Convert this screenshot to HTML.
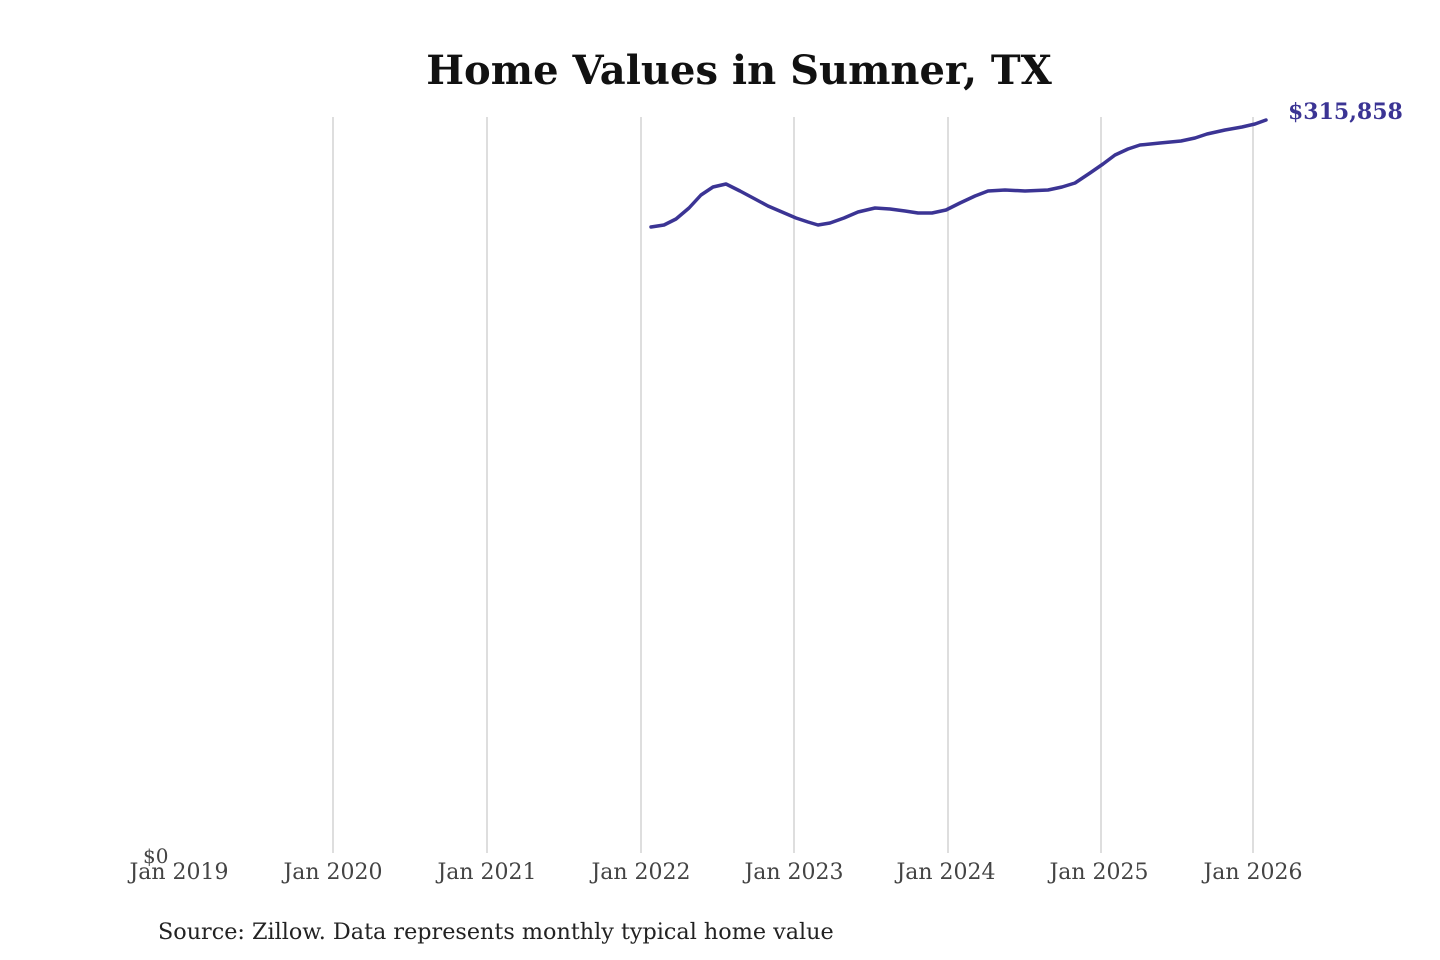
<!DOCTYPE html>
<html><head><style>
body{margin:0;background:#fff;}
svg{display:block;font-family:"DejaVu Serif","Liberation Serif",serif;}
</style></head><body>
<svg width="1440" height="960" viewBox="0 0 1440 960">
<rect width="1440" height="960" fill="#fff"/>
<text x="739" y="84" text-anchor="middle" font-size="40" font-weight="bold" fill="#111">Home Values in Sumner, TX</text>
<g stroke="#c8c8c8" stroke-width="1.2">
<line x1="333" y1="117" x2="333" y2="853"/>
<line x1="487" y1="117" x2="487" y2="853"/>
<line x1="641" y1="117" x2="641" y2="853"/>
<line x1="794" y1="117" x2="794" y2="853"/>
<line x1="948" y1="117" x2="948" y2="853"/>
<line x1="1101" y1="117" x2="1101" y2="853"/>
<line x1="1253" y1="117" x2="1253" y2="853"/>
</g>
<polyline fill="none" stroke="#3b3494" stroke-width="3.5" stroke-linejoin="round" stroke-linecap="round"
points="651,227 664,225 676,219 689,208 701,195 713,187 726,184 740,191 755,199 768,206 782,212 796,218 808,222 818,225 830,223 844,218 858,212 875,208 890,209 905,211 918,213 932,213 946,210 960,203 975,196 988,191 1005,190 1025,191 1048,190 1062,187 1075,183 1090,173 1103,164 1115,155 1128,149 1140,145 1160,143 1181,141 1195,138 1207,134 1225,130 1242,127 1255,124 1266,120"/>
<text x="1288" y="119" font-size="22" font-weight="bold" fill="#3b3494">$315,858</text>
<text x="143" y="863" font-size="20" fill="#444">$0</text>
<g font-size="22" fill="#444" text-anchor="middle">
<text x="179" y="879">Jan 2019</text>
<text x="333" y="879">Jan 2020</text>
<text x="487" y="879">Jan 2021</text>
<text x="641" y="879">Jan 2022</text>
<text x="794" y="879">Jan 2023</text>
<text x="946" y="879">Jan 2024</text>
<text x="1099" y="879">Jan 2025</text>
<text x="1253" y="879">Jan 2026</text>
</g>
<text x="158" y="939" font-size="22.3" fill="#222">Source: Zillow. Data represents monthly typical home value</text>
</svg>
</body></html>
